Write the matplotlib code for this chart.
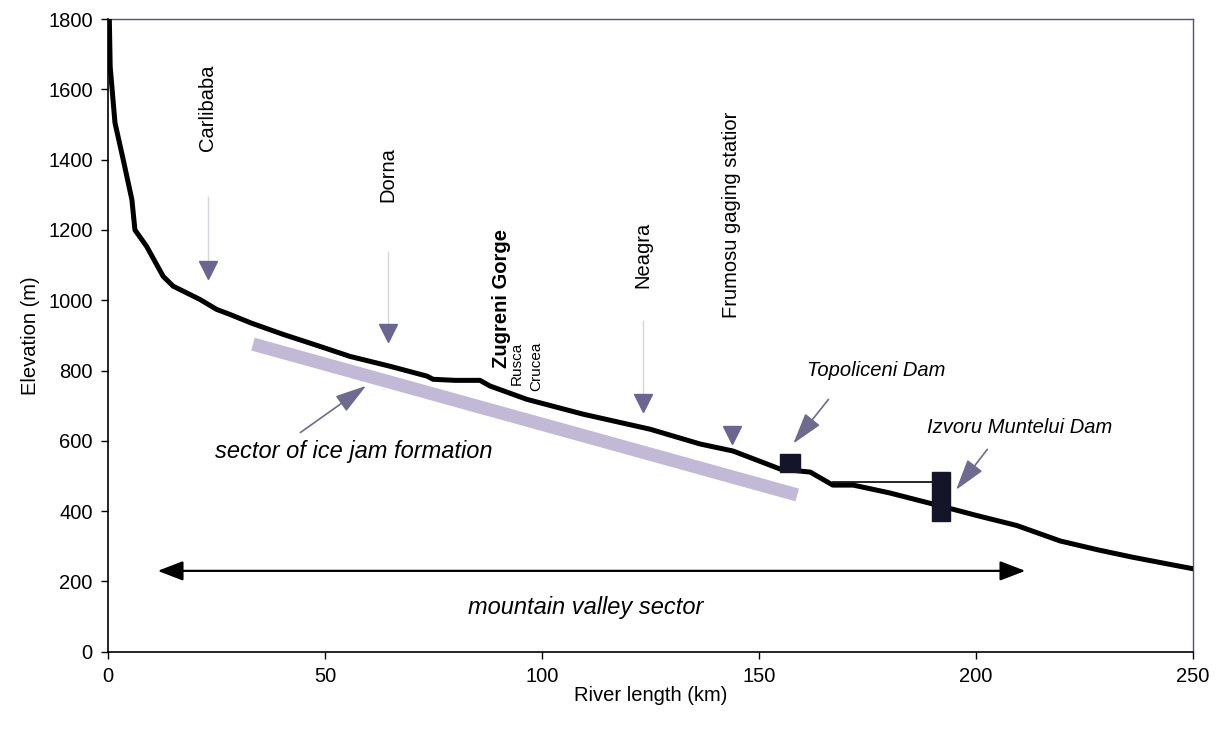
import numpy as np
import matplotlib
matplotlib.use("Agg")
import matplotlib.pyplot as plt
from matplotlib.patches import Rectangle

plt.rcParams['font.family'] = ['Liberation Sans', 'DejaVu Sans']

# longitudinal profile (km, m)
profile_km = [0.3, 0.5, 1.6, 3.5, 5.5, 6.2, 8.9, 12.7, 15, 21.2, 25, 28, 33, 40.3, 48, 55.8,
              65, 73.5, 74.9, 80, 85.7, 88, 96.5, 109.4, 124.9, 136.4, 144, 154.8, 159.4,
              161.8, 167, 171.7, 180, 191.7, 200, 209.4, 219.4, 228, 236, 244, 250]
profile_elev = [1800, 1664, 1505, 1400, 1286, 1200, 1153, 1068, 1040, 1002, 974, 960, 935, 903,
                872, 840, 812, 784, 775, 772, 772, 756, 718, 676, 633, 591, 571, 520, 514,
                511, 474, 474, 452, 415, 388, 359, 315, 290, 269, 250, 236]

# stations with marker arrows
stations = ["Carlibaba", "Dorna", "Neagra", "Frumosu gaging statior"]
station_km = [23, 64.5, 123.2, 143.7]
station_text_elev = [1547, 1357, 1128, 1244]
station_line_top = [1295, 1136, 940, None]
station_marker_elev = [1085, 906, 707, 616]

# dams: x0, x1, y0, y1
topoliceni = [154.8, 159.4, 512, 562]
izvoru = [189.8, 194.0, 373, 512]
reservoir_km = [167, 190]
reservoir_elev = 482

# ice jam sector bar
ice_km = [33.4, 158.8]
ice_elev = [875, 446]

valley_km = [10.8, 212]
valley_elev = 230

fig = plt.figure(figsize=(12.22, 7.32), dpi=100)
ax = fig.add_axes([0.0884, 0.1097, 0.8879, 0.8643])

ax.plot(ice_km, ice_elev, color='#c2b9d7', lw=9.5, solid_capstyle='butt', zorder=1)
ax.plot(profile_km, profile_elev, color='black', lw=3.6, solid_joinstyle='round', zorder=3)

tri_color = '#6a6690'
for name, xk, ty, lt, my in zip(stations, station_km, station_text_elev,
                                station_line_top, station_marker_elev):
    ax.text(xk, ty, name, rotation=90, ha='center', va='center', fontsize=14.5)
    if lt is not None:
        ax.plot([xk, xk], [lt, my + 20], color='#d6d6de', lw=1, zorder=2)
    ax.plot(xk, my, marker='v', color=tri_color, ms=13, zorder=4)

ax.text(90.7, 1005, "Zugreni Gorge", rotation=90, ha='center', va='center',
        fontsize=14.5, fontweight='bold')
ax.text(94.1, 883, "Rusca", rotation=90, ha='center', va='top', fontsize=11)
ax.text(98.7, 883, "Crucea", rotation=90, ha='center', va='top', fontsize=11)

for d in [topoliceni, izvoru]:
    ax.add_patch(Rectangle((d[0], d[2]), d[1] - d[0], d[3] - d[2],
                           facecolor='#15152a', edgecolor='#15152a', zorder=5))
ax.plot(reservoir_km, [reservoir_elev, reservoir_elev], color='black', lw=1.2, zorder=3)

arrow_kw = dict(arrowstyle='-|>,head_length=1.5,head_width=0.45', color='#6f6b8f',
                lw=1.2, mutation_scale=13)
ax.annotate("", xy=(60, 761), xytext=(43.8, 619), arrowprops=arrow_kw, zorder=4)
ax.annotate("", xy=(157.5, 586), xytext=(166.4, 724), arrowprops=arrow_kw, zorder=4)
ax.annotate("", xy=(195, 454), xytext=(203, 582), arrowprops=arrow_kw, zorder=4)

ax.text(56.7, 571, "sector of ice jam formation", ha='center', va='center',
        fontsize=17, style='italic')
ax.text(177, 799, "Topoliceni Dam", ha='center', va='center', fontsize=14.5, style='italic')
ax.text(210.1, 639, "Izvoru Muntelui Dam", ha='center', va='center', fontsize=14.5, style='italic')

ax.annotate("", xy=(valley_km[1], valley_elev), xytext=(valley_km[0], valley_elev),
            arrowprops=dict(arrowstyle='<|-|>,head_length=1.3,head_width=0.5',
                            color='black', lw=1.6, mutation_scale=12))
ax.text(110, 125, "mountain valley sector", ha='center', va='center',
        fontsize=17, style='italic')

ax.set_xlim(0, 250)
ax.set_ylim(0, 1800)
ax.set_xticks(np.arange(0, 251, 50))
ax.set_yticks(np.arange(0, 1801, 200))
ax.tick_params(direction='out', length=5, width=1, labelsize=14.5, pad=6)
ax.set_xlabel("River length (km)", fontsize=14.5, labelpad=0)
ax.set_ylabel("Elevation (m)", fontsize=14.5, labelpad=6)

for s in ['top', 'right']:
    ax.spines[s].set_color('#50508a')
    ax.spines[s].set_linewidth(1)
for s in ['left', 'bottom']:
    ax.spines[s].set_color('black')
    ax.spines[s].set_linewidth(1.2)

plt.savefig("out.png", dpi=100)
